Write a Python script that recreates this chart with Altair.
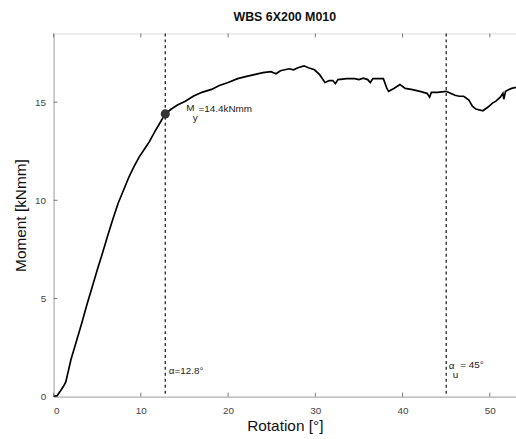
import altair as alt
import pandas as pd

# Rotation [deg] and moment [kNmm]
rotation = [0.0, 0.4, 0.8, 1.1, 1.4, 2.0, 2.6, 3.2, 3.8, 4.4, 5.0, 5.6, 6.2, 6.8, 7.4, 8.0, 8.6,
            9.2, 9.8, 10.4, 11.0, 11.6, 12.2, 12.8, 13.5, 14.2, 15.1, 16.0, 17.0, 18.1, 19.0,
            20.0, 21.1, 22.0, 23.0, 24.0, 24.9, 25.5, 26.0, 27.0, 27.5, 28.0, 28.7, 29.2,
            29.9, 30.5, 31.1, 31.6, 32.0, 32.3, 32.6, 33.6, 34.5, 35.0, 35.5, 36.0, 36.3,
            36.6, 37.8, 38.2, 38.4, 39.0, 39.7, 40.3, 41.0, 42.0, 42.8, 43.1, 43.3, 44.0,
            45.0, 45.5, 46.0, 46.5, 47.0, 47.6, 48.0, 48.4, 49.2, 49.8, 50.3, 50.7, 51.2,
            51.5, 51.6, 51.8, 52.2, 52.5, 53.0]
moment = [0.0, 0.05, 0.3, 0.5, 0.75, 1.9, 2.8, 3.7, 4.65, 5.55, 6.45, 7.3, 8.2, 9.05, 9.85,
          10.5, 11.15, 11.7, 12.2, 12.6, 13.0, 13.5, 13.95, 14.4, 14.65, 14.85, 15.05, 15.3,
          15.5, 15.65, 15.85, 16.0, 16.2, 16.3, 16.4, 16.5, 16.55, 16.45, 16.6, 16.7, 16.65,
          16.75, 16.85, 16.75, 16.65, 16.4, 16.0, 16.1, 16.1, 15.95, 16.15, 16.2, 16.2,
          16.15, 16.22, 16.15, 16.0, 16.2, 16.2, 15.7, 15.55, 15.7, 15.9, 15.7, 15.65, 15.55,
          15.45, 15.25, 15.5, 15.5, 15.55, 15.45, 15.35, 15.3, 15.3, 15.1, 14.8, 14.65, 14.56,
          14.75, 14.95, 15.05, 15.25, 15.45, 15.15, 15.55, 15.65, 15.7, 15.75]

x_ticks = [0, 10, 20, 30, 40, 50]
y_ticks = [0, 5, 10, 15]
vline_x = [12.8, 45]
yield_rot = [12.8]
yield_mom = [14.4]

W, H = 466, 366
FONT = "Liberation Sans"

df = pd.DataFrame({"rot": rotation, "mom": moment})
xs = alt.Scale(domain=[0, 53], nice=False, zero=False)
ys = alt.Scale(domain=[0, 18.5], nice=False, zero=False)

line = alt.Chart(df).mark_line(color="black", strokeWidth=1.7, clip=True).encode(
    x=alt.X("rot:Q", scale=xs, axis=alt.Axis(values=x_ticks, title="Rotation [°]", ticks=False,
                                            labelPadding=9, titlePadding=3, titleFontSize=15.5,
                                            titleFontWeight="normal", labelFontSize=10,
                                            labelColor="#444", titleColor="#111",
                                            domainColor="#aaa", grid=False, labelFont=FONT,
                                            titleFont=FONT)),
    y=alt.Y("mom:Q", scale=ys, axis=alt.Axis(values=y_ticks, title="Moment [kNmm]", ticks=False,
                                            labelPadding=8, titlePadding=6, titleFontSize=15.5,
                                            titleFontWeight="normal", labelFontSize=10,
                                            labelColor="#444", titleColor="#111",
                                            domainColor="#aaa", grid=False, labelFont=FONT,
                                            titleFont=FONT)),
)

vdf = pd.DataFrame({"x": vline_x})
vlines = alt.Chart(vdf).mark_rule(color="#222", strokeDash=[3, 3], strokeWidth=1.3).encode(
    x=alt.X("x:Q", scale=xs))

tdf = pd.DataFrame({"t": x_ticks})
xt_bot = alt.Chart(tdf).mark_rule(color="#777").encode(
    x=alt.X("t:Q", scale=xs), y=alt.value(H), y2=alt.value(H - 4))
xt_top = alt.Chart(tdf).mark_rule(color="#777").encode(
    x=alt.X("t:Q", scale=xs), y=alt.value(0), y2=alt.value(4))
ydf = pd.DataFrame({"t": y_ticks})
yt = alt.Chart(ydf).mark_rule(color="#777").encode(
    y=alt.Y("t:Q", scale=ys), x=alt.value(0), x2=alt.value(4))

pdf = pd.DataFrame({"x": yield_rot, "y": yield_mom})
point = alt.Chart(pdf).mark_circle(size=85, color="#333", opacity=1).encode(
    x=alt.X("x:Q", scale=xs), y=alt.Y("y:Q", scale=ys))

ann = pd.DataFrame({
    "x": [15.2, 15.95, 16.6, 13.2, 45.3, 45.75, 46.6],
    "y": [14.7, 14.2, 14.65, 1.3, 1.55, 1.1, 1.6],
    "text": ["M", "y", "=14.4kNmm", "α=12.8°", "α", "u", "= 45°"],
})
texts = alt.Chart(ann).mark_text(align="left", baseline="middle", fontSize=10, font=FONT,
                                 color="#222").encode(
    x=alt.X("x:Q", scale=xs), y=alt.Y("y:Q", scale=ys), text="text:N")

chart = alt.layer(xt_bot, xt_top, yt, vlines, line, point, texts).properties(
    width=W, height=H,
    title=alt.TitleParams("WBS 6X200 M010", fontSize=12.5, fontWeight="bold", font=FONT,
                          color="#111", offset=9, anchor="middle"),
    padding={"left": 54, "top": 32, "right": 0, "bottom": 41},
    autosize=alt.AutoSizeParams(type="none"),
).configure_view(stroke="#bbb", strokeWidth=1).configure(background="white")

chart.save("out.html", embed_options={"renderer": "svg", "actions": False})
